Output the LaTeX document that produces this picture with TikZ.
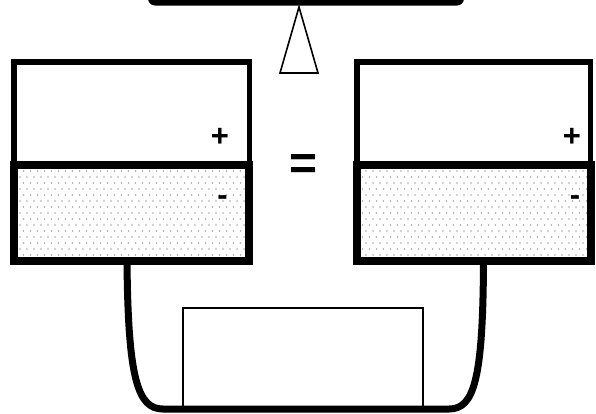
\documentclass[tikz,border=0pt]{standalone}
\usepackage{fontspec}
\setmainfont{Liberation Sans}
\begin{document}
\begin{tikzpicture}[x=1pt,y=-1pt,
  upbox/.style={draw=black,line width=5.5pt,fill=white,rectangle,inner sep=0pt,outer sep=0pt},
  lowbox/.style={draw=black,line width=8pt,rectangle,inner sep=0pt,outer sep=0pt},
  sign/.style={font=\bfseries\fontsize{31}{34}\selectfont,inner sep=0pt},
  thin/.style={draw=black,line width=1.6pt},
  dotc/.style={fill=black!35}]
\useasboundingbox (0,0) rectangle (596,413);
% top bar (cut off)
\fill[black,rounded corners=7pt] (148,-20) rectangle (464,5.5);
% triangle
\node[coordinate] (apex) at (299,7) {};
\node[coordinate] (bl) at (280,73) {};
\node[coordinate] (br) at (318,73) {};
\draw[thin,line join=miter] (apex) -- (br) -- (bl) -- cycle;
% upper boxes
\node[upbox,minimum width=235.5pt,minimum height=103.25pt] (lu) at (131.5,113.4) {};
\node[upbox,minimum width=233.5pt,minimum height=103.25pt] (ru) at (473.5,113.4) {};
% dotted fills
\foreach \cx in {131.5,474}{
  \begin{scope}
  \clip (\cx-117,165) rectangle (\cx+117,261);
  \fill[white] (\cx-117,165) rectangle (\cx+117,261);
  \foreach \r in {0,...,14}{
    \pgfmathsetmacro{\off}{mod(\r,2)*3.5}
    \foreach \c in {0,...,34}{
      \fill[dotc] ({\cx-117+2+\off+\c*7},{171+\r*6}) circle (0.85);
    }
  }
  \end{scope}
}
% lower boxes
\node[lowbox,minimum width=235pt,minimum height=96pt] (ll) at (131.5,213) {};
\node[lowbox,minimum width=234pt,minimum height=96pt] (rl) at (474,213) {};
% signs
\node[sign] (lp) at (220,137) {+};
\node[sign] (lm) at (222.5,201) {-};
\node[sign] (rp) at (572,137) {+};
\node[sign] (rm) at (575,201) {-};
\node[font=\bfseries\fontsize{48}{50}\selectfont,inner sep=0pt] (eq) at (304,167) {=};
% inner rectangle
\node[coordinate] (ib1) at (183,409) {};
\node[coordinate] (it1) at (183,308) {};
\node[coordinate] (it2) at (423,308) {};
\node[coordinate] (ib2) at (423,409) {};
\draw[thin,line join=miter] (ib1) -- (it1) -- (it2) -- (ib2);
% U connector
\node[coordinate] (cl) at (127,261) {};
\node[coordinate] (cr) at (483.5,261) {};
\draw[line width=7pt,line join=round]
  (cl) .. controls (128,380) and (138,409) .. (163,409)
  -- (449,409) .. controls (474,409) and (483,380) .. (cr);
\end{tikzpicture}
\end{document}
